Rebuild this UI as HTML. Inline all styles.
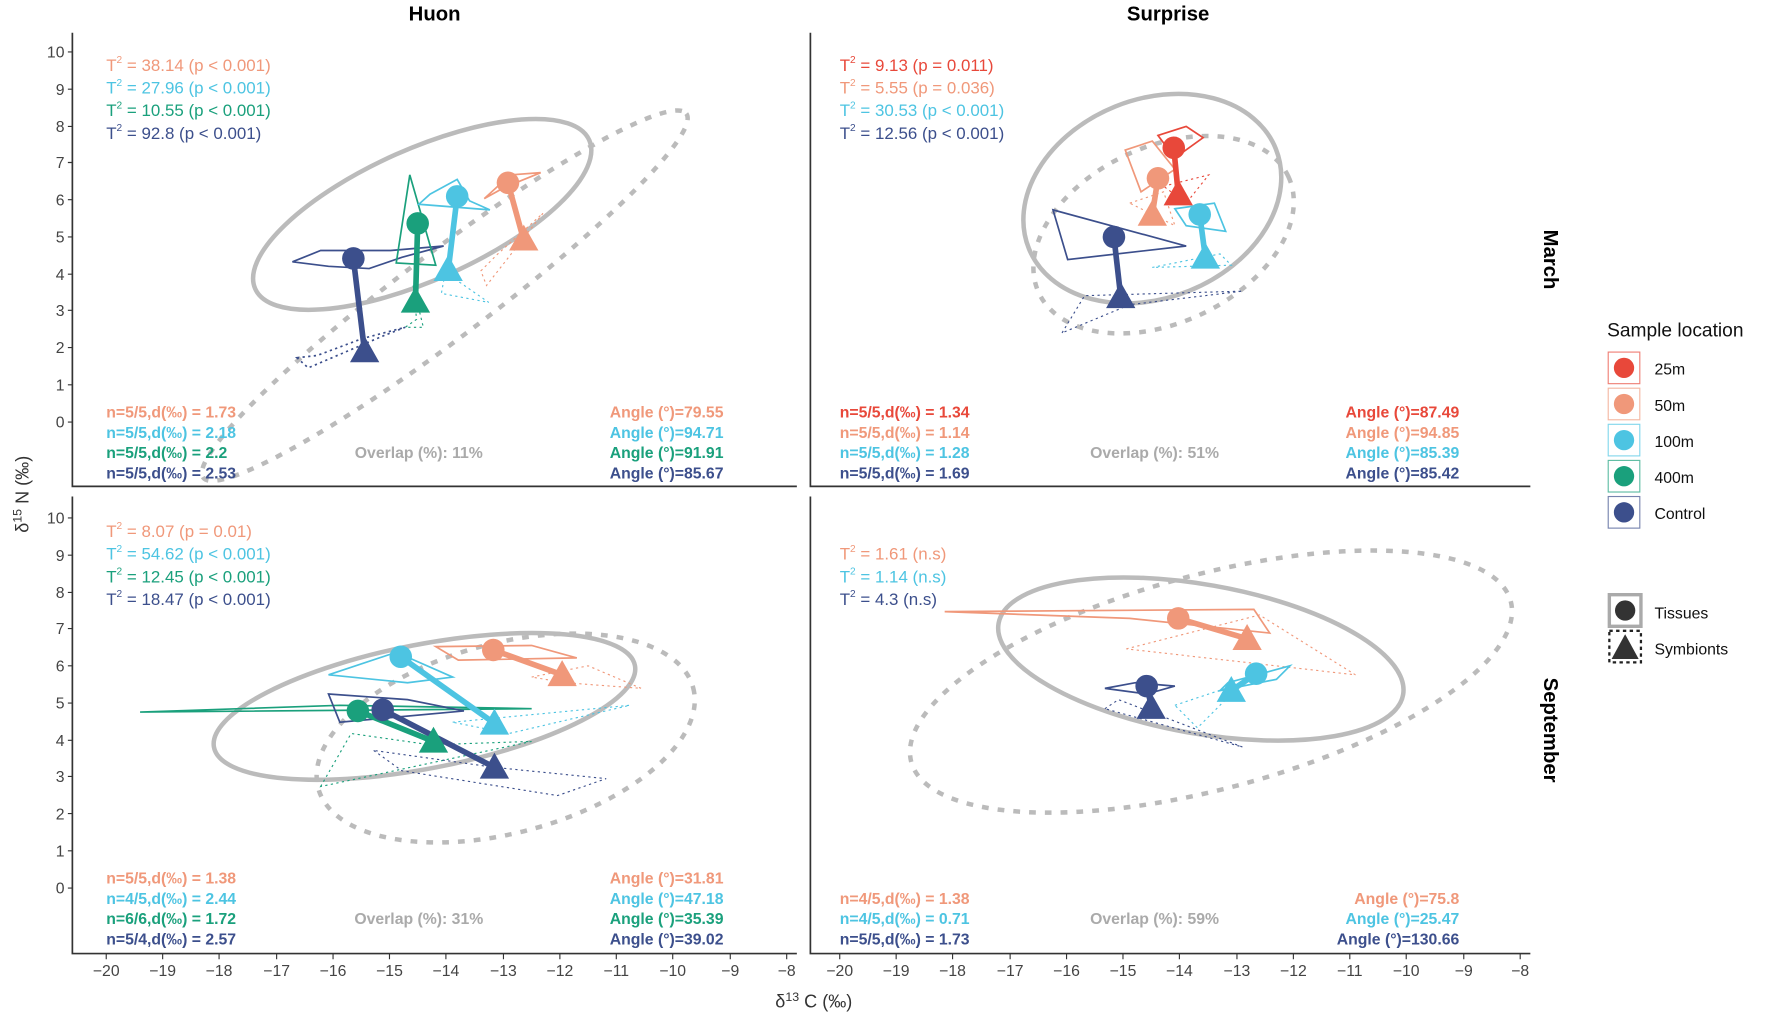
<!DOCTYPE html>
<html><head><meta charset="utf-8"><style>
html,body{margin:0;padding:0;background:#fff}
svg{display:block}
text{font-family:"Liberation Sans",sans-serif}
.tk{font-size:14px;fill:#444}
.t2{font-size:15px}
.st{font-size:14px;font-weight:bold}
</style></head><body>
<svg width="1772" height="1019" viewBox="0 0 1568 903" xmlns="http://www.w3.org/2000/svg">
<defs>
<g id="yt">
<g class="tk" text-anchor="end">
<text x="56" y="51">10</text><text x="56" y="84">9</text><text x="56" y="117">8</text><text x="56" y="149">7</text><text x="56" y="182">6</text><text x="56" y="215">5</text><text x="56" y="248">4</text><text x="56" y="280">3</text><text x="56" y="313">2</text><text x="56" y="346">1</text><text x="56" y="379">0</text>
</g>
<path d="M59 46h4M59 79h4M59 112h4M59 144h4M59 177h4M59 210h4M59 243h4M59 275h4M59 308h4M59 341h4M59 374h4" stroke="#333"/>
</g>
<g id="xt">
<path d="M93 845v5M143 845v5M193 845v5M244 845v5M294 845v5M344 845v5M394 845v5M445 845v5M495 845v5M545 845v5M595 845v5M646 845v5M696 845v5" stroke="#333"/>
<g class="tk" text-anchor="middle">
<text x="93" y="865">−20</text><text x="143" y="865">−19</text><text x="193" y="865">−18</text><text x="244" y="865">−17</text><text x="294" y="865">−16</text><text x="344" y="865">−15</text><text x="394" y="865">−14</text><text x="445" y="865">−13</text><text x="495" y="865">−12</text><text x="545" y="865">−11</text><text x="595" y="865">−10</text><text x="646" y="865">−9</text><text x="696" y="865">−8</text>
</g>
</g>
</defs>

<text x="384" y="18" font-size="18" font-weight="bold" text-anchor="middle">Huon</text>
<text x="1034" y="18" font-size="18" font-weight="bold" text-anchor="middle">Surprise</text>
<text transform="translate(1367,230) rotate(90)" font-size="18" font-weight="bold" text-anchor="middle">March</text>
<text transform="translate(1367,647) rotate(90)" font-size="18" font-weight="bold" text-anchor="middle">September</text>

<path d="M63 29V431H705M717 29V431H1355M63 440V845H705M717 440V845H1355" fill="none" stroke="#333" stroke-width="1.5"/>
<use href="#yt"/>
<use href="#yt" transform="translate(0,413)"/>
<use href="#xt"/>
<use href="#xt" transform="translate(650,0)"/>
<text x="720" y="893" font-size="16" text-anchor="middle" fill="#333">δ<tspan font-size="11" dy="-6">13</tspan><tspan dy="6"> C (‰)</tspan></text>
<text transform="translate(24,438) rotate(-90)" font-size="16" text-anchor="middle" fill="#333">δ<tspan font-size="11" dy="-6">15</tspan><tspan dy="6"> N (‰)</tspan></text>

<!-- Huon March -->
<g fill="none">
<ellipse cx="373" cy="190" rx="162" ry="58" transform="rotate(-24 373 190)" stroke="#bbb" stroke-width="4"/>
<ellipse cx="393" cy="262" rx="268" ry="38" transform="rotate(-37 393 262)" stroke="#bbb" stroke-width="4" stroke-dasharray="6 8"/>
<polygon points="258,232 283,222 345,222 392,218 355,228 326,238 290,236" stroke="#3c4f8c" stroke-width="1.5"/>
<polygon points="262,317 280,315 320,300 358,290 340,297 272,326" stroke="#3c4f8c" stroke-dasharray="2 3" stroke-width="1.5"/>
<polygon points="362,155 350,233 385,235" stroke="#1aa07c" stroke-width="1.5"/>
<polygon points="365,253 368,283 358,290 374,290" stroke="#1aa07c" stroke-dasharray="2 3"/>
<polygon points="380,172 404,159 415,178 433,186 370,181" stroke="#4dc4e2" stroke-width="1.5"/>
<polygon points="396,227 406,250 432,268 390,260" stroke="#4dc4e2" stroke-dasharray="2 3"/>
<polygon points="428,176 451,155 478,153 446,166" stroke="#f0987a" stroke-width="1.5"/>
<polygon points="425,240 440,225 480,189 430,253" stroke="#f0987a" stroke-dasharray="2 3"/>
</g>
<g stroke-linecap="round">
<line x1="312" y1="229" x2="322" y2="312" stroke="#3c4f8c" stroke-width="5"/>
<line x1="369" y1="198" x2="367" y2="268" stroke="#1aa07c" stroke-width="5"/>
<line x1="404" y1="174" x2="396" y2="240" stroke="#4dc4e2" stroke-width="5"/>
<line x1="449" y1="162" x2="463" y2="213" stroke="#f0987a" stroke-width="5"/>
</g>
<circle cx="312" cy="229" r="10" fill="#3c4f8c"/><path d="M322 298l13 23h-26z" fill="#3c4f8c"/>
<circle cx="369" cy="198" r="10" fill="#1aa07c"/><path d="M367 254l13 23h-26z" fill="#1aa07c"/>
<circle cx="404" cy="174" r="10" fill="#4dc4e2"/><path d="M396 226l13 23h-26z" fill="#4dc4e2"/>
<circle cx="449" cy="162" r="10" fill="#f0987a"/><path d="M463 199l13 23h-26z" fill="#f0987a"/>

<g class="t2">
<text x="93" y="63" fill="#f0987a">T<tspan font-size="9" dy="-7">2</tspan><tspan dy="7"> = 38.14 (p &lt; 0.001)</tspan></text>
<text x="93" y="83" fill="#4dc4e2">T<tspan font-size="9" dy="-7">2</tspan><tspan dy="7"> = 27.96 (p &lt; 0.001)</tspan></text>
<text x="93" y="103" fill="#1aa07c">T<tspan font-size="9" dy="-7">2</tspan><tspan dy="7"> = 10.55 (p &lt; 0.001)</tspan></text>
<text x="93" y="123" fill="#3c4f8c">T<tspan font-size="9" dy="-7">2</tspan><tspan dy="7"> = 92.8 (p &lt; 0.001)</tspan></text>
</g>
<g class="st">
<text x="93" y="370" fill="#f0987a">n=5/5,d(‰) = 1.73</text>
<text x="93" y="388" fill="#4dc4e2">n=5/5,d(‰) = 2.18</text>
<text x="93" y="406" fill="#1aa07c">n=5/5,d(‰) = 2.2</text>
<text x="93" y="424" fill="#3c4f8c">n=5/5,d(‰) = 2.53</text>
<text x="640" y="370" fill="#f0987a" text-anchor="end">Angle (°)=79.55</text>
<text x="640" y="388" fill="#4dc4e2" text-anchor="end">Angle (°)=94.71</text>
<text x="640" y="406" fill="#1aa07c" text-anchor="end">Angle (°)=91.91</text>
<text x="640" y="424" fill="#3c4f8c" text-anchor="end">Angle (°)=85.67</text>
<text x="370" y="406" fill="#aaa" text-anchor="middle">Overlap (%): 11%</text>
</g>

<!-- Surprise March -->
<g fill="none">
<ellipse cx="1020" cy="176" rx="118" ry="88" transform="rotate(-22 1020 176)" stroke="#bbb" stroke-width="4"/>
<ellipse cx="1030" cy="208" rx="122" ry="78" transform="rotate(-25 1030 208)" stroke="#bbb" stroke-width="4" stroke-dasharray="6 8"/>
<polygon points="932,186 945,230 1050,218" stroke="#3c4f8c" stroke-width="1.5"/>
<polygon points="940,295 960,262 1100,258 1000,270" stroke="#3c4f8c" stroke-dasharray="2 3"/>
<polygon points="1025,120 1050,112 1065,122 1040,140" stroke="#e8483a" stroke-width="1.5"/>
<polygon points="1030,165 1070,155 1050,180" stroke="#e8483a" stroke-dasharray="2 3"/>
<polygon points="996,133 1020,125 1040,150 1010,170" stroke="#f0987a" stroke-width="1.5"/>
<polygon points="1000,180 1030,170 1040,200" stroke="#f0987a" stroke-dasharray="2 3"/>
<polygon points="1040,185 1075,180 1085,205 1050,200" stroke="#4dc4e2" stroke-width="1.5"/>
<polygon points="1020,237 1080,225 1090,235" stroke="#4dc4e2" stroke-dasharray="2 3"/>
</g>
<g stroke-linecap="round">
<line x1="986" y1="210" x2="992" y2="263" stroke="#3c4f8c" stroke-width="5"/>
<line x1="1025" y1="158" x2="1020" y2="190" stroke="#f0987a" stroke-width="5"/>
<line x1="1062" y1="190" x2="1067" y2="228" stroke="#4dc4e2" stroke-width="5"/>
<line x1="1039" y1="131" x2="1043" y2="172" stroke="#e8483a" stroke-width="5"/>
</g>
<circle cx="986" cy="210" r="10" fill="#3c4f8c"/><path d="M992 250l13 23h-26z" fill="#3c4f8c"/>
<circle cx="1025" cy="158" r="10" fill="#f0987a"/><path d="M1020 177l13 23h-26z" fill="#f0987a"/>
<circle cx="1062" cy="190" r="10" fill="#4dc4e2"/><path d="M1067 215l13 23h-26z" fill="#4dc4e2"/>
<circle cx="1039" cy="131" r="10" fill="#e8483a"/><path d="M1043 159l13 23h-26z" fill="#e8483a"/>

<g class="t2">
<text x="743" y="63" fill="#e8483a">T<tspan font-size="9" dy="-7">2</tspan><tspan dy="7"> = 9.13 (p = 0.011)</tspan></text>
<text x="743" y="83" fill="#f0987a">T<tspan font-size="9" dy="-7">2</tspan><tspan dy="7"> = 5.55 (p = 0.036)</tspan></text>
<text x="743" y="103" fill="#4dc4e2">T<tspan font-size="9" dy="-7">2</tspan><tspan dy="7"> = 30.53 (p &lt; 0.001)</tspan></text>
<text x="743" y="123" fill="#3c4f8c">T<tspan font-size="9" dy="-7">2</tspan><tspan dy="7"> = 12.56 (p &lt; 0.001)</tspan></text>
</g>
<g class="st">
<text x="743" y="370" fill="#e8483a">n=5/5,d(‰) = 1.34</text>
<text x="743" y="388" fill="#f0987a">n=5/5,d(‰) = 1.14</text>
<text x="743" y="406" fill="#4dc4e2">n=5/5,d(‰) = 1.28</text>
<text x="743" y="424" fill="#3c4f8c">n=5/5,d(‰) = 1.69</text>
<text x="1292" y="370" fill="#e8483a" text-anchor="end">Angle (°)=87.49</text>
<text x="1292" y="388" fill="#f0987a" text-anchor="end">Angle (°)=94.85</text>
<text x="1292" y="406" fill="#4dc4e2" text-anchor="end">Angle (°)=85.39</text>
<text x="1292" y="424" fill="#3c4f8c" text-anchor="end">Angle (°)=85.42</text>
<text x="1022" y="406" fill="#aaa" text-anchor="middle">Overlap (%): 51%</text>
</g>

<!-- Huon September -->
<g fill="none">
<ellipse cx="375" cy="626" rx="190" ry="55" transform="rotate(-11 375 626)" stroke="#bbb" stroke-width="4"/>
<ellipse cx="447" cy="654" rx="172" ry="84" transform="rotate(-15 447 654)" stroke="#bbb" stroke-width="4" stroke-dasharray="6 8"/>
<polygon points="123,631 470,628 300,625" stroke="#1aa07c" stroke-width="1.5"/>
<polygon points="283,697 310,650 380,660 470,657" stroke="#1aa07c" stroke-dasharray="2 3"/>
<polygon points="290,615 360,620 410,630 300,640" stroke="#3c4f8c" stroke-width="1.5"/>
<polygon points="330,665 355,683 493,705 536,690 437,680" stroke="#3c4f8c" stroke-dasharray="2 3"/>
<polygon points="290,598 350,578 400,600 360,605" stroke="#4dc4e2" stroke-width="1.5"/>
<polygon points="400,640 557,625 450,650" stroke="#4dc4e2" stroke-dasharray="2 3"/>
<polygon points="385,573 470,572 510,583 405,585" stroke="#f0987a" stroke-width="1.5"/>
<polygon points="470,600 520,590 567,610 500,605" stroke="#f0987a" stroke-dasharray="2 3"/>
</g>
<g stroke-linecap="round">
<line x1="436" y1="576" x2="497" y2="598" stroke="#f0987a" stroke-width="5"/>
<line x1="354" y1="582" x2="437" y2="641" stroke="#4dc4e2" stroke-width="5"/>
<line x1="338" y1="629" x2="437" y2="680" stroke="#3c4f8c" stroke-width="5"/>
<line x1="316" y1="630" x2="383" y2="657" stroke="#1aa07c" stroke-width="5"/>
</g>
<circle cx="436" cy="576" r="10" fill="#f0987a"/><path d="M497 585l13 23h-26z" fill="#f0987a"/>
<circle cx="354" cy="582" r="10" fill="#4dc4e2"/><path d="M437 628l13 23h-26z" fill="#4dc4e2"/>
<circle cx="338" cy="629" r="10" fill="#3c4f8c"/><path d="M437 667l13 23h-26z" fill="#3c4f8c"/>
<circle cx="316" cy="630" r="10" fill="#1aa07c"/><path d="M383 644l13 23h-26z" fill="#1aa07c"/>

<g class="t2">
<text x="93" y="476" fill="#f0987a">T<tspan font-size="9" dy="-7">2</tspan><tspan dy="7"> = 8.07 (p = 0.01)</tspan></text>
<text x="93" y="496" fill="#4dc4e2">T<tspan font-size="9" dy="-7">2</tspan><tspan dy="7"> = 54.62 (p &lt; 0.001)</tspan></text>
<text x="93" y="516" fill="#1aa07c">T<tspan font-size="9" dy="-7">2</tspan><tspan dy="7"> = 12.45 (p &lt; 0.001)</tspan></text>
<text x="93" y="536" fill="#3c4f8c">T<tspan font-size="9" dy="-7">2</tspan><tspan dy="7"> = 18.47 (p &lt; 0.001)</tspan></text>
</g>
<g class="st">
<text x="93" y="783" fill="#f0987a">n=5/5,d(‰) = 1.38</text>
<text x="93" y="801" fill="#4dc4e2">n=4/5,d(‰) = 2.44</text>
<text x="93" y="819" fill="#1aa07c">n=6/6,d(‰) = 1.72</text>
<text x="93" y="837" fill="#3c4f8c">n=5/4,d(‰) = 2.57</text>
<text x="640" y="783" fill="#f0987a" text-anchor="end">Angle (°)=31.81</text>
<text x="640" y="801" fill="#4dc4e2" text-anchor="end">Angle (°)=47.18</text>
<text x="640" y="819" fill="#1aa07c" text-anchor="end">Angle (°)=35.39</text>
<text x="640" y="837" fill="#3c4f8c" text-anchor="end">Angle (°)=39.02</text>
<text x="370" y="819" fill="#aaa" text-anchor="middle">Overlap (%): 31%</text>
</g>

<!-- Surprise September -->
<g fill="none">
<ellipse cx="1063" cy="584" rx="182" ry="66" transform="rotate(10 1063 584)" stroke="#bbb" stroke-width="4"/>
<ellipse cx="1072" cy="604" rx="275" ry="95" transform="rotate(-15 1072 604)" stroke="#bbb" stroke-width="4" stroke-dasharray="6 8"/>
<polygon points="836,542 1110,540 1124,561 1000,548" stroke="#f0987a" stroke-width="1.5"/>
<polygon points="997,575 1115,545 1200,598" stroke="#f0987a" stroke-dasharray="2 3"/>
<polygon points="1087,605 1142,590 1130,602 1080,612" stroke="#4dc4e2" stroke-width="1.5"/>
<polygon points="1040,625 1100,605 1060,645" stroke="#4dc4e2" stroke-dasharray="2 3"/>
<polygon points="978,610 1005,605 1040,608 1015,615" stroke="#3c4f8c" stroke-width="1.5"/>
<polygon points="978,628 990,620 1100,662" stroke="#3c4f8c" stroke-dasharray="2 3"/>
</g>
<g stroke-linecap="round">
<line x1="1043" y1="548" x2="1104" y2="566" stroke="#f0987a" stroke-width="5"/>
<line x1="1112" y1="597" x2="1090" y2="612" stroke="#4dc4e2" stroke-width="5"/>
<line x1="1015" y1="608" x2="1019" y2="625" stroke="#3c4f8c" stroke-width="5"/>
</g>
<circle cx="1043" cy="548" r="10" fill="#f0987a"/><path d="M1104 553l13 23h-26z" fill="#f0987a"/>
<circle cx="1112" cy="597" r="10" fill="#4dc4e2"/><path d="M1090 599l13 23h-26z" fill="#4dc4e2"/>
<circle cx="1015" cy="608" r="10" fill="#3c4f8c"/><path d="M1019 614l13 23h-26z" fill="#3c4f8c"/>

<g class="t2">
<text x="743" y="496" fill="#f0987a">T<tspan font-size="9" dy="-7">2</tspan><tspan dy="7"> = 1.61 (n.s)</tspan></text>
<text x="743" y="516" fill="#4dc4e2">T<tspan font-size="9" dy="-7">2</tspan><tspan dy="7"> = 1.14 (n.s)</tspan></text>
<text x="743" y="536" fill="#3c4f8c">T<tspan font-size="9" dy="-7">2</tspan><tspan dy="7"> = 4.3 (n.s)</tspan></text>
</g>
<g class="st">
<text x="743" y="801" fill="#f0987a">n=4/5,d(‰) = 1.38</text>
<text x="743" y="819" fill="#4dc4e2">n=4/5,d(‰) = 0.71</text>
<text x="743" y="837" fill="#3c4f8c">n=5/5,d(‰) = 1.73</text>
<text x="1292" y="801" fill="#f0987a" text-anchor="end">Angle (°)=75.8</text>
<text x="1292" y="819" fill="#4dc4e2" text-anchor="end">Angle (°)=25.47</text>
<text x="1292" y="837" fill="#3c4f8c" text-anchor="end">Angle (°)=130.66</text>
<text x="1022" y="819" fill="#aaa" text-anchor="middle">Overlap (%): 59%</text>
</g>

<!-- legend -->
<text x="1423" y="298" font-size="17" fill="#111">Sample location</text>
<g font-size="14" fill="#111">
<rect x="1424" y="312" width="28" height="28" fill="none" stroke="#e8483a" stroke-opacity=".7"/><circle cx="1438" cy="326" r="9" fill="#e8483a"/><text x="1465" y="332">25m</text>
<rect x="1424" y="344" width="28" height="28" fill="none" stroke="#f0987a" stroke-opacity=".7"/><circle cx="1438" cy="358" r="9" fill="#f0987a"/><text x="1465" y="364">50m</text>
<rect x="1424" y="376" width="28" height="28" fill="none" stroke="#4dc4e2" stroke-opacity=".7"/><circle cx="1438" cy="390" r="9" fill="#4dc4e2"/><text x="1465" y="396">100m</text>
<rect x="1424" y="408" width="28" height="28" fill="none" stroke="#1aa07c" stroke-opacity=".7"/><circle cx="1438" cy="422" r="9" fill="#1aa07c"/><text x="1465" y="428">400m</text>
<rect x="1424" y="440" width="28" height="28" fill="none" stroke="#3c4f8c" stroke-opacity=".7"/><circle cx="1438" cy="454" r="9" fill="#3c4f8c"/><text x="1465" y="460">Control</text>
<rect x="1425" y="527" width="28" height="28" fill="none" stroke="#aaa" stroke-width="3"/><circle cx="1439" cy="541" r="9" fill="#333"/><text x="1465" y="548">Tissues</text>
<rect x="1425" y="559" width="28" height="28" fill="none" stroke="#222" stroke-dasharray="3 3" stroke-width="2"/><path d="M1439 562l12 22h-24z" fill="#333"/><text x="1465" y="580">Symbionts</text>
</g>
</svg>
</body></html>
